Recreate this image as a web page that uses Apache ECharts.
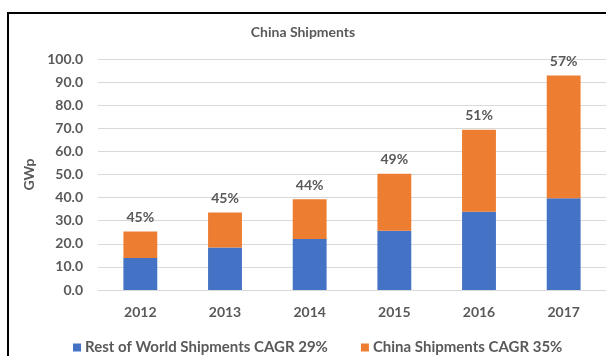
<!DOCTYPE html>
<html>
<head>
<meta charset="utf-8">
<style>
  html, body { margin: 0; padding: 0; background: #ffffff; }
  #chart { width: 606px; height: 356px; }
</style>
<script src="https://cdn.jsdelivr.net/npm/echarts@6/dist/echarts.min.js"></script>
</head>
<body>
<div id="chart"></div>
<script>
// Annual PV module shipments, GWp
const years = ['2012', '2013', '2014', '2015', '2016', '2017'];
const restOfWorld = [13.9, 18.4, 22.1, 25.6, 33.9, 39.7];
const china = [11.4, 15.1, 17.2, 24.7, 35.5, 53.2];
const yTicks = { min: 0, max: 100, interval: 10 };
const seriesNames = ['Rest of World Shipments CAGR 29%', 'China Shipments CAGR 35%'];

const TEXT = '#595959';
const FONT = 'Lato';

// China's share of each year's total, printed above the stacked bar
const shareLabel = (i) => {
  const total = restOfWorld[i] + china[i];
  return Math.round(china[i] / total * 100) + '%';
};

const chart = echarts.init(document.getElementById('chart'), null, { renderer: 'canvas' });

chart.setOption({
  backgroundColor: '#ffffff',
  animation: false,
  textStyle: { fontFamily: FONT },
  title: {
    text: 'China Shipments',
    left: 'center',
    top: 20,
    textStyle: { color: TEXT, fontFamily: FONT, fontWeight: 'bold', fontSize: 14 }
  },
  legend: {
    data: seriesNames,
    left: 68,
    top: 335,
    itemWidth: 8,
    itemHeight: 8,
    itemGap: 33,
    icon: 'rect',
    textStyle: { color: TEXT, fontFamily: FONT, fontWeight: 'bold', fontSize: 15, padding: [0, 0, 0, -1] }
  },
  graphic: [{
    type: 'rect',
    shape: { x: 8, y: 13, width: 700, height: 400 },
    style: { fill: 'none', stroke: '#000000', lineWidth: 2 },
    silent: true
  }],
  grid: { left: 98, top: 59, bottom: 66, right: -1 },
  xAxis: {
    type: 'category',
    data: years,
    axisTick: { show: false },
    axisLine: { show: true, lineStyle: { color: '#d9d9d9', width: 1 } },
    axisLabel: { color: TEXT, fontFamily: FONT, fontWeight: 'bold', fontSize: 14, margin: 15 }
  },
  yAxis: {
    type: 'value',
    min: yTicks.min,
    max: yTicks.max,
    interval: yTicks.interval,
    name: 'GWp',
    nameLocation: 'middle',
    nameGap: 61,
    nameRotate: 90,
    nameTextStyle: { color: TEXT, fontFamily: FONT, fontWeight: 'bold', fontSize: 14 },
    axisLine: { show: false },
    axisTick: { show: false },
    splitLine: { lineStyle: { color: '#d9d9d9', width: 1 } },
    axisLabel: {
      color: TEXT, fontFamily: FONT, fontWeight: 'bold', fontSize: 14, margin: 15,
      formatter: (v) => v.toFixed(1)
    }
  },
  series: [
    {
      name: seriesNames[0],
      type: 'bar',
      stack: 'total',
      barWidth: '40%',
      itemStyle: { color: '#4472C4' },
      data: restOfWorld
    },
    {
      name: seriesNames[1],
      type: 'bar',
      stack: 'total',
      barWidth: '40%',
      itemStyle: { color: '#ED7D31' },
      label: {
        show: true,
        position: 'top',
        distance: 7,
        color: TEXT,
        fontFamily: FONT,
        fontWeight: 'bold',
        fontSize: 14,
        formatter: (p) => shareLabel(p.dataIndex)
      },
      data: china
    }
  ]
});
</script>
</body>
</html>
